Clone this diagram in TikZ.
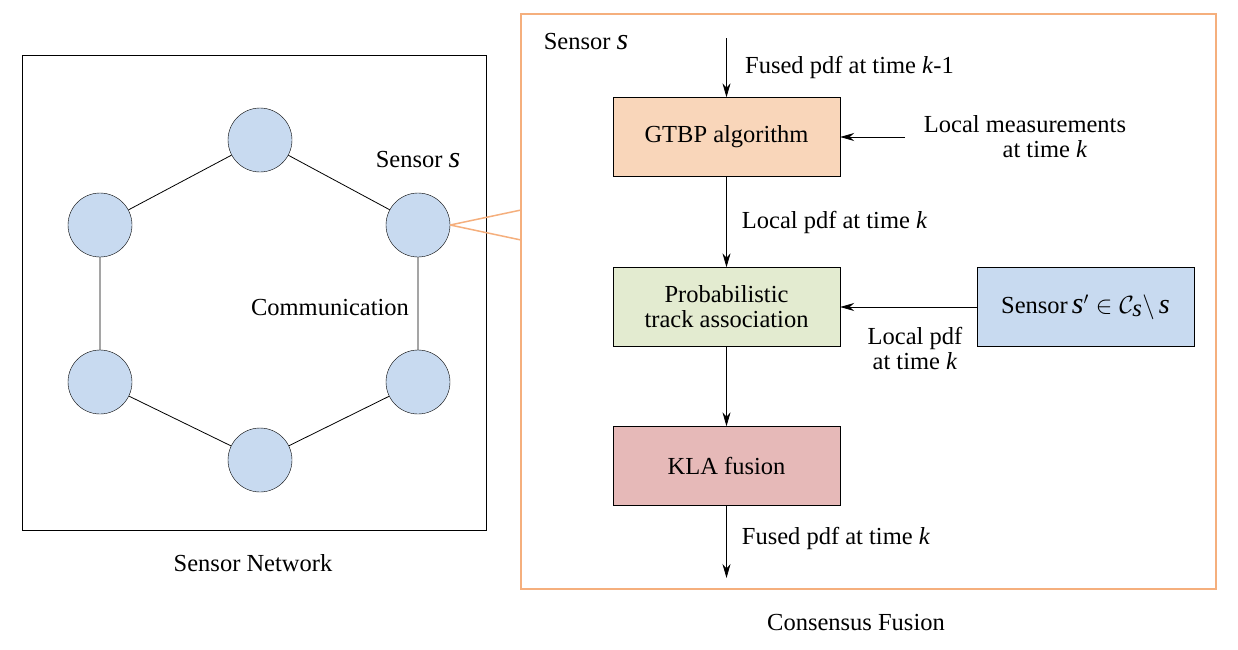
\documentclass[tikz,border=0pt]{standalone}
\usepackage{fontspec}
\setmainfont{Liberation Serif}
\usetikzlibrary{arrows.meta}
\definecolor{nodeblue}{RGB}{200,218,240}
\definecolor{boxorange}{RGB}{249,214,186}
\definecolor{boxgreen}{RGB}{227,235,208}
\definecolor{boxred}{RGB}{230,185,184}
\definecolor{frameorange}{RGB}{245,175,125}
\newcommand{\vi}[1]{\textit{#1}}
\begin{document}
\begin{tikzpicture}[x=1pt,y=1pt,yscale=-1,
  every node/.style={font=\fontsize{24.5}{28}\selectfont},
  sensor/.style={circle,draw,fill=nodeblue,minimum size=64pt,inner sep=0pt},
  block/.style={draw,minimum width=227pt,minimum height=79pt,align=center},
  flow/.style={line width=0.8pt,-{Stealth[length=14pt,width=8pt]}},
  lbl/.style={anchor=west,inner sep=1pt}]
\useasboundingbox (0,0) rectangle (1238,649);

% Sensor network
\draw (22,55) rectangle (486,530);
\node (s1) [sensor] at (260,140) {};
\node (s2) [sensor] at (100,225) {};
\node (s3) [sensor] at (418,225) {};
\node (s4) [sensor] at (100,382) {};
\node (s5) [sensor] at (418,382) {};
\node (s6) [sensor] at (260,460) {};
\draw[line width=0.8pt] (s1) -- (s2) (s1) -- (s3) (s2) -- (s4) (s3) -- (s5) (s4) -- (s6) (s5) -- (s6);
\node at (418,160) {Sensor \vi{\fontsize{30}{30}\selectfont s}};
\node at (330,307) {Communication};
\node at (253,563) {Sensor Network};

% Consensus fusion
\draw[frameorange,line width=1.5pt] (521,14) rectangle (1216,589);
\draw[frameorange,line width=1.5pt] (s3.east) -- (521,210) (s3.east) -- (521,240);
\node at (586,42) {Sensor \vi{\fontsize{30}{30}\selectfont s}};
\node at (856,622) {Consensus Fusion};

\node (gtbp) [block,fill=boxorange] at (726.5,137) {GTBP algorithm};
\node (pta) [block,fill=boxgreen] at (726.5,307) {Probabilistic\\[-3pt]track association};
\node (kla) [block,fill=boxred] at (726.5,466) {KLA fusion};
\node (nbr) [block,fill=nodeblue,minimum width=217pt] at (1085.5,307) {Sensor\,\vi{\fontsize{30}{30}\selectfont s}$'\in\mathcal{C}_{\vi{s}}\setminus$\,\vi{\fontsize{28}{28}\selectfont s}};
\coordinate (in) at (726.5,38);
\coordinate (out) at (726.5,578);
\coordinate (meas) at (905,137);

\draw[flow] (in) -- (gtbp);
\draw[flow] (gtbp) -- node[lbl,xshift=14pt] {Local pdf at time \vi{k}} (pta);
\draw[flow] (pta) -- (kla);
\draw[flow] (kla) -- node[lbl,pos=0.45,xshift=14pt] {Fused pdf at time \vi{k}} (out);
\draw[flow] (meas) -- (gtbp);
\draw[flow] (nbr) -- (pta);
\node at (744,67) [lbl] {Fused pdf at time \vi{k}-1};
\node at (1025,137) [align=center] {Local measurements\\[-3pt]\hspace*{40pt}at time \vi{k}};
\node at (915,348) [align=center] {Local pdf\\[-3pt]at time \vi{k}};
\end{tikzpicture}
\end{document}
